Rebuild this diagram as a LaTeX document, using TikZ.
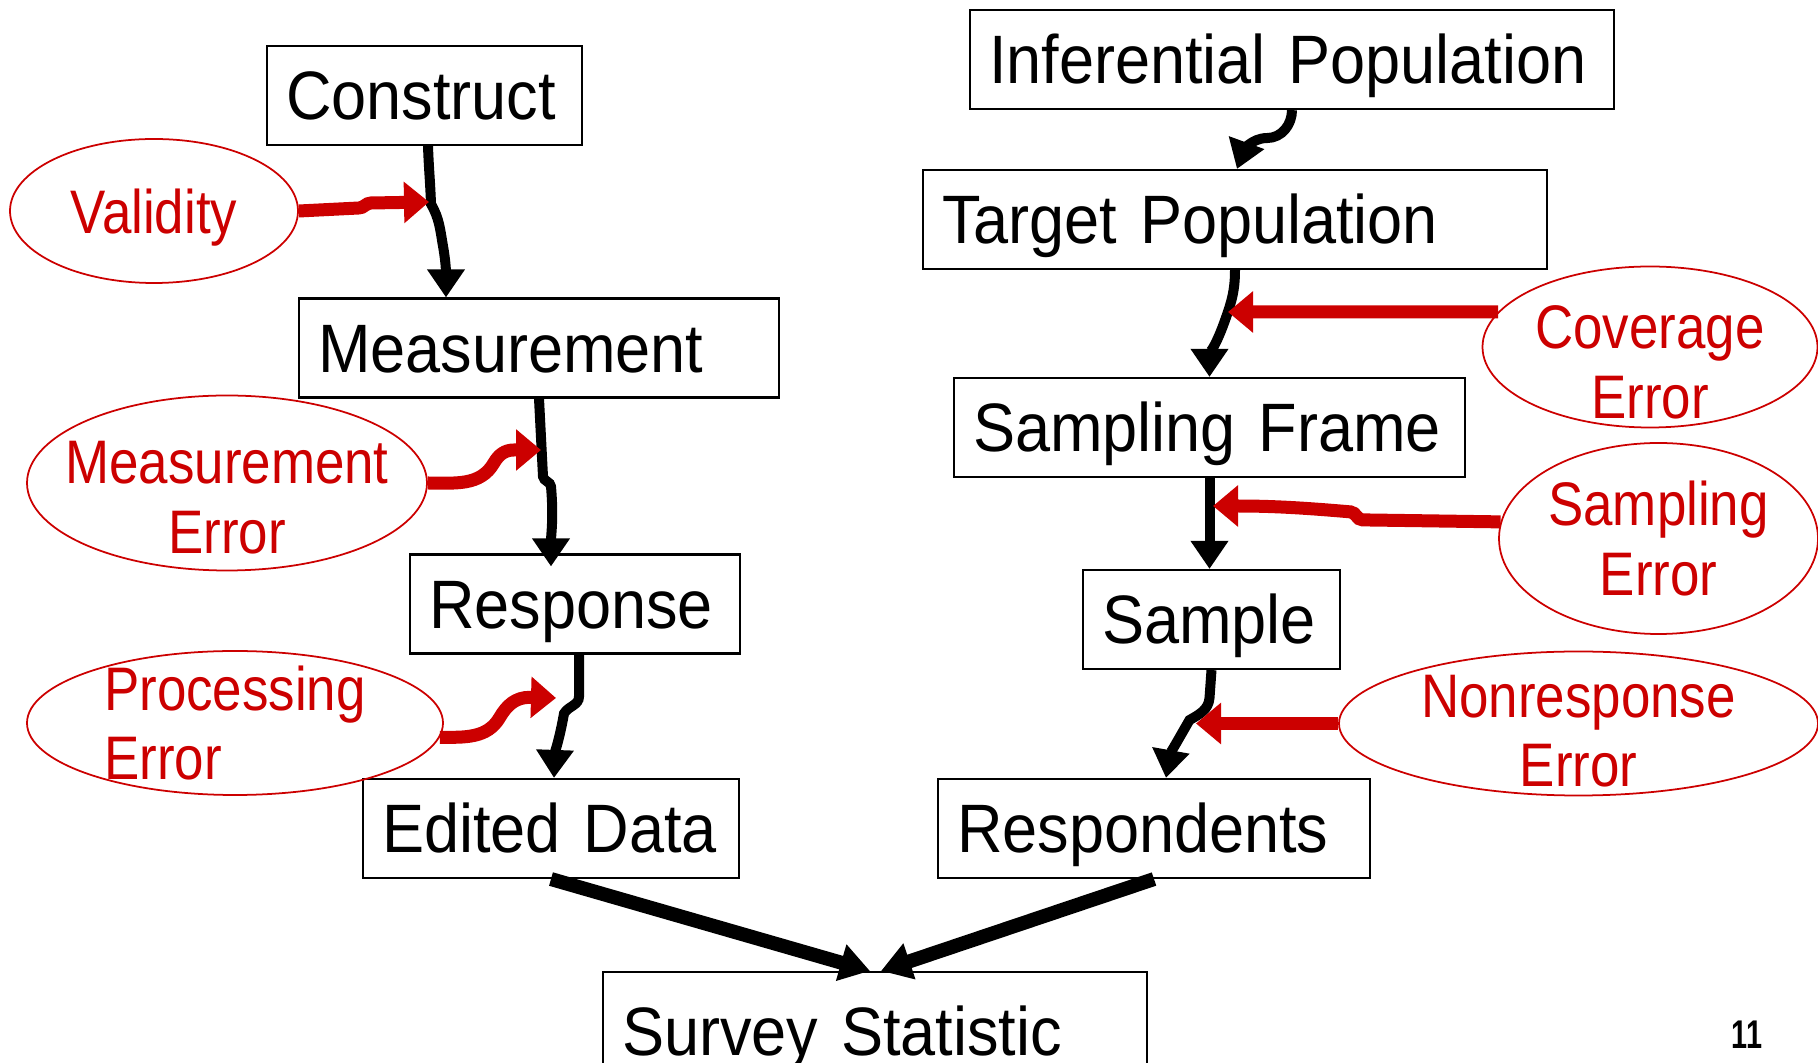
\documentclass[tikz,border=0pt]{standalone}
\usepackage{fontspec}
\setmainfont{Liberation Sans}
\newfontfamily\boxfam[FakeStretch=0.92,WordSpace=0.6]{Liberation Sans}
\newfontfamily\errfam[FakeStretch=0.86]{Liberation Sans}
\newfontfamily\numfam[FakeStretch=0.72]{Liberation Sans}
\newcommand{\boxfont}{\boxfam\fontsize{19.5}{23}\selectfont}
\newcommand{\errfont}{\errfam\fontsize{17.5}{19.8}\selectfont}
\newcommand{\lowline}[1]{\rule{0pt}{#1}}
\usepackage{tikz}
\usetikzlibrary{shapes}
\usetikzlibrary{arrows.meta}
\usetikzlibrary{calc}
\usepackage{xcolor}
\definecolor{errred}{HTML}{CC0000}
\tikzset{mybox/.style={draw, line width=0.6pt, minimum height=0.99cm, text height=0.49cm, text depth=0cm, inner xsep=0.19cm, align=left, font=\boxfont}}
\tikzset{myerr/.style={draw=errred, line width=0.5pt, ellipse, inner xsep=-1.5cm, inner ysep=-0.6cm, text=errred, align=center, font=\errfont}}
\tikzset{myflow/.style={line width=0.1cm, -{Triangle[length=0.28cm,width=0.36cm]}}}
\tikzset{myerrArrow/.style={errred, line width=0.13cm, -{Triangle[length=0.25cm,width=0.4cm]}}}
\tikzset{myBigArrow/.style={line width=0.14cm, -{Triangle[length=0.3cm,width=0.36cm]}}}

\begin{document}
\begin{tikzpicture}

\useasboundingbox (0,0) rectangle (18.18,-10.63);

\node[mybox, text width=2.77cm] (construct) at (4.245, -0.955) {Construct};
\node[mybox, text width=4.42cm] (measure) at (5.39, -3.48) {Measurement};
\node[mybox, text width=2.92cm] (response) at (5.75, -6.04) {Response};
\node[mybox, text width=3.38cm] (edited) at (5.51, -8.285) {Edited Data};
\node[mybox, text width=5.06cm, minimum height=1.18cm] (survey) at (8.75, -10.31) {Survey Statistic};

\node[mybox, text width=6.06cm] (infPop) at (12.92, -0.595) {Inferential Population};
\node[mybox, text width=5.86cm] (targetPop) at (12.35, -2.195) {Target Population};
\node[mybox, text width=4.73cm] (frame) at (12.095, -4.275) {Sampling Frame};
\node[mybox, text width=2.19cm] (sample) at (12.115, -6.195) {Sample};
\node[mybox, text width=3.94cm] (resp) at (11.54, -8.285) {Respondents};

\node[myerr, minimum width=2.88cm, minimum height=1.44cm, text depth=0cm] (validity) at (1.54, -2.11) {Validity};
\node[myerr, minimum width=4.00cm, minimum height=1.75cm] (measErr) at (2.27, -4.83) {\lowline{0.72cm}Measurement\\Error};
\node[myerr, minimum width=4.16cm, minimum height=1.44cm, align=left] (procErr) at (2.35, -7.23) {Processing\\Error};
\node[myerr, minimum width=3.35cm, minimum height=1.61cm] (covErr) at (16.50, -3.47) {\lowline{0.74cm}Coverage\\Error};
\node[myerr, minimum width=3.19cm, minimum height=1.91cm] (sampErr) at (16.585, -5.385) {Sampling\\Error};
\node[myerr, minimum width=4.79cm, minimum height=1.44cm] (nonrespErr) at (15.785, -7.235) {\lowline{0.58cm}Nonresponse\\Error};

\node[font=\numfam\bfseries\fontsize{11.4}{12}\selectfont] (pageNo) at (17.47, -10.35) {11};

\coordinate (valTip) at (4.29, -2.02);
\coordinate (measTip) at (5.41, -4.50);
\coordinate (procTip) at (5.56, -6.98);
\coordinate (covTip) at (12.28, -3.12);
\coordinate (sampTip) at (12.13, -5.06);
\coordinate (nrTip) at (11.96, -7.235);

\draw[myflow] ([xshift=0.035cm]construct.south) to[out=-88,in=92] ++(0.03,-0.58) to[out=-60,in=100] ++(0.12,-0.42) to[out=-80,in=90] ([xshift=0.215cm]construct.south |- measure.north);
\draw[myflow] (measure.south) -- ++(0.04,-0.78) to[out=-80,in=95] ++(0.08,-0.1) to[out=-85,in=90] ([xshift=-0.24cm,yshift=-0.13cm]response.north);
\draw[myflow] ([xshift=0.04cm]response.south) -- ++(0,-0.42) to[out=-90,in=60] ++(-0.15,-0.17) to[out=-100,in=88] ([xshift=0.03cm]edited.north);

\draw[myflow] (infPop.south) to[out=-90,in=0] ++(-0.25,-0.28) to[out=180,in=70] ([xshift=0.02cm]targetPop.north);
\draw[myflow] (targetPop.south) to[out=-90,in=70] ++(-0.11,-0.53) to[out=-110,in=90] (frame.north);
\draw[myflow] (frame.south) -- (frame.south |- sample.north);
\draw[myflow] (sample.south) -- ++(-0.02,-0.28) to[out=-95,in=30] ++(-0.2,-0.22) to[out=-120,in=80] ([xshift=0.12cm]resp.north);

\draw[myerrArrow] (validity.east) -- ++(0.6,0.03) to[out=0,in=180] ++(0.12,0.05) -- (valTip);
\draw[myerrArrow] (measErr.east) to[out=0,in=-120] ++(0.66,0.2) to[out=60,in=180] ++(0.2,0.13) -- (measTip);
\draw[myerrArrow] (procErr.-4) to[out=0,in=-120] ++(0.6,0.2) to[out=60,in=180] ++(0.3,0.2) -- (procTip);
\draw[myerrArrow] (covErr.167) -- (covTip);
\draw[myerrArrow] (sampErr.174) -- ++(-1.38,0.02) to[out=180,in=-5] ++(-0.12,0.08) to[out=175,in=0] (sampTip);
\draw[myerrArrow] (nonrespErr.west) -- (nrTip);

\draw[myBigArrow] (edited.south) -- ([xshift=-0.05cm]survey.north);
\draw[myBigArrow] (resp.south) -- ([xshift=0.06cm]survey.north);

\end{tikzpicture}
\end{document}
